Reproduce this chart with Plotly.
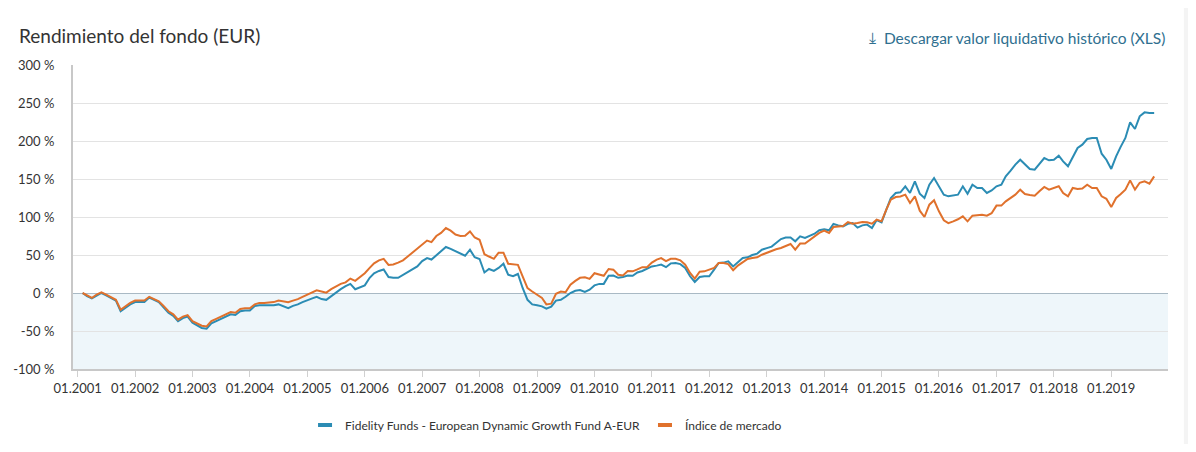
import pandas as pd
import plotly.graph_objects as go

# Monthly points, Feb 2001 .. Oct 2019
dates = pd.date_range("2001-02-01", periods=225, freq="MS")

fund = [
    0, -4, -7, -3, 0, -3, -6, -10, -24, -19, -15,                      # 2001
    -12, -12, -12, -6, -9, -12, -19, -26, -30, -37, -33, -31,          # 2002
    -39, -43, -46, -47, -40, -37, -34, -31, -28, -29, -24, -23,        # 2003
    -23, -17, -16, -16, -16, -16, -15, -18, -20, -17, -15, -12,        # 2004
    -10, -7, -5, -8, -9, -4, 1, 5, 9, 12, 5, 8,                        # 2005
    10, 20, 26, 29, 31, 21, 20, 20, 24, 28, 32, 35,                    # 2006
    42, 46, 44, 50, 55, 60.5, 58, 55, 52.6, 49, 57, 47,                # 2007
    44.7, 27, 31.6, 29, 33, 38.5, 24, 22, 25, 6.6, -9, -15,            # 2008
    -16, -17.6, -20.7, -18, -10, -9, -5, 0, 3, 4, 1.3, 4.4,            # 2009
    10, 12, 12, 22.7, 23, 20, 21, 23, 22.7, 27, 29, 31.6,              # 2010
    35, 36, 37.5, 34, 39, 39.5, 38, 33, 22, 14.5, 21, 22,              # 2011
    22, 30.7, 39.5, 40, 41.7, 35, 40, 46, 47, 50, 51.8, 57,            # 2012
    59, 61, 65.8, 71, 73, 73, 68, 74.6, 72.4, 75, 78, 82.5,            # 2013
    84, 82.5, 90.8, 89, 87.7, 91, 92, 86, 89, 90, 85.5, 96,            # 2014
    93, 110, 125, 131.6, 132.5, 140.4, 131.6, 147, 130.7, 125, 142.5, 151.3,   # 2015
    140.4, 129.4, 127.2, 128, 129.4, 140.4, 130.7, 142.5, 138.2, 138.2, 131.6, 135,  # 2016
    140.4, 142.5, 153.5, 161, 168.9, 175.4, 168.9, 163.2, 162.3, 170, 177.6, 174.6,  # 2017
    175.4, 180.7, 173.2, 166.7, 179, 190.8, 195.2, 202.6, 204, 204, 183.3, 175.4,    # 2018
    163.2, 179.8, 192, 204, 224.6, 215.8, 232.5, 237.7, 236.8, 236.8,                # 2019
]

index = [
    0, -3, -6.5, -2, 1, -2, -5, -9, -22, -17, -13,                     # 2001
    -10, -10, -10, -5, -8, -11, -17, -24, -28, -35, -31, -29,          # 2002
    -37, -40, -43, -44, -37, -34, -31, -28, -25, -26, -21, -20,        # 2003
    -20, -15, -13, -13, -12.5, -12, -10, -11, -12, -10, -8, -5,        # 2004
    -2, 1, 3.5, 2, 0.5, 5, 9, 12, 14, 19, 16, 21,                      # 2005
    26, 33, 39, 43, 45, 37, 37.6, 40, 43, 48, 53, 58,                  # 2006
    64, 69, 67, 75, 79, 85.5, 82, 77, 75, 75.4, 81, 73,                # 2007
    70, 51, 48, 45, 53, 53, 38.5, 37.5, 37, 22, 6.5, 2,                # 2008
    -2, -6.6, -15, -14, -1, 2, 1, 11, 16, 20, 20.7, 18.5,              # 2009
    26, 24, 22.7, 31.6, 30.7, 24, 23, 29, 28.5, 31, 34, 34,            # 2010
    40, 44, 46, 42, 45, 45, 43, 37.3, 26.3, 19, 28, 28.5,              # 2011
    31, 33, 39.5, 39.5, 38, 30, 36, 40, 44.7, 46, 47, 50.4,            # 2012
    53, 55.7, 57.5, 59.2, 62, 64.5, 57, 65, 65, 70, 74.6, 79,          # 2013
    82, 79, 86.8, 87.7, 88, 93.4, 91.2, 92, 93.4, 93, 91.2, 96.5,      # 2014
    94.3, 110, 122.8, 126.3, 127, 129.4, 118.4, 127.2, 108.3, 100, 116.2, 122,       # 2015
    107.5, 95.6, 92, 94.3, 97, 100.9, 94.3, 101.8, 102, 103, 101.8, 105,             # 2016
    115, 115, 120.6, 125, 129.4, 136, 130.3, 129, 128, 134, 139.5, 136,              # 2017
    138, 140.4, 131.6, 127.2, 138.2, 136.8, 137.5, 142.5, 138.2, 138.2, 127.2, 124,  # 2018
    113, 125, 130, 136, 148.2, 136, 145, 147, 143.9, 153.5,                          # 2019
]

tick_years = list(range(2001, 2020))
tick_vals = [f"{y}-01-01" for y in tick_years]
tick_text = [f"01.{y}" for y in tick_years]
y_ticks = [-100, -50, 0, 50, 100, 150, 200, 250, 300]

series_names = ["Fidelity Funds - European Dynamic Growth Fund A-EUR", "Índice de mercado"]
BLUE = "#2b8cb4"
ORANGE = "#e0712c"
FONT = "Lato"

fig = go.Figure()
fig.add_trace(go.Scatter(x=dates, y=fund, mode="lines", line=dict(color=BLUE, width=2),
                         showlegend=False, hoverinfo="skip"))
fig.add_trace(go.Scatter(x=dates, y=index, mode="lines", line=dict(color=ORANGE, width=2),
                         showlegend=False, hoverinfo="skip"))
# legend entries
for name, col in zip(series_names, [BLUE, ORANGE]):
    fig.add_trace(go.Scatter(x=[None], y=[None], mode="markers", name=name,
                             marker=dict(symbol="line-ew", size=10, color=col,
                                         line=dict(width=4, color=col))))

# shaded negative region
fig.add_shape(type="rect", xref="paper", yref="y", x0=0, x1=1, y0=-100, y1=0,
              fillcolor="#eef6fa", line_width=0, layer="below")
# grey strip at far right
fig.add_shape(type="rect", xref="paper", yref="paper", x0=1.0145, x1=1.2, y0=-1, y1=2,
              fillcolor="#f4f4f4", line_width=0, layer="below")

fig.update_layout(
    width=1180, height=436,
    margin=dict(l=65, r=20, t=57, b=75, autoexpand=False),
    paper_bgcolor="white", plot_bgcolor="white",
    font=dict(family=FONT, color="#333333", size=13),
    showlegend=True,
    legend=dict(orientation="h", x=0.432, xanchor="center",
                yref="container", y=0.0436, yanchor="middle",
                font=dict(size=12, color="#333333"), itemwidth=30, bgcolor="rgba(0,0,0,0)"),
    annotations=[
        dict(text="Rendimiento del fondo (EUR)", xref="paper", yref="paper",
             x=-0.0511, y=1.0955, xanchor="left", yanchor="middle", showarrow=False,
             font=dict(size=19, color="#333333", family=FONT)),
        dict(text="⤓  Descargar valor liquidativo histórico (XLS)", xref="paper", yref="paper",
             x=0.999, y=1.089, xanchor="right", yanchor="middle", showarrow=False,
             font=dict(size=15.5, color="#2f6f8f", family=FONT)),
    ],
)
fig.update_xaxes(
    type="date", range=["2000-12-02", "2019-12-28"],
    tickvals=tick_vals, ticktext=tick_text,
    showgrid=False, zeroline=False,
    showline=True, linecolor="#c8c8c8", linewidth=2,
    ticks="outside", ticklen=6, tickcolor="#d0d0d0", tickwidth=1,
    tickfont=dict(size=13, color="#333333"),
)
fig.update_yaxes(
    range=[-100, 300], tickvals=y_ticks, ticktext=[f"{v} %" for v in y_ticks],
    showgrid=True, gridcolor="#e3e3e3", gridwidth=1,
    zeroline=True, zerolinecolor="#a9b9c4", zerolinewidth=1,
    showline=True, linecolor="#c8c8c8", linewidth=2,
    ticks="outside", ticklen=14, tickcolor="rgba(0,0,0,0)",
    tickfont=dict(size=13, color="#333333"),
)

fig.write_html("out.html")
